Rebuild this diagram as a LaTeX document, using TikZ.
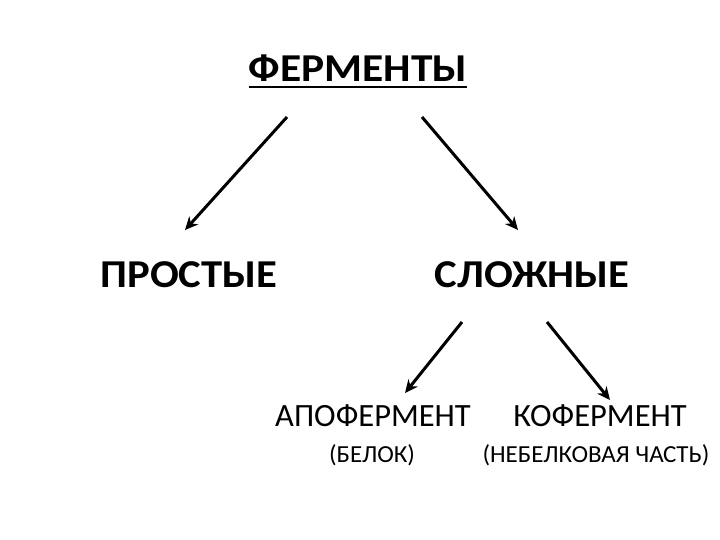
\documentclass[tikz,border=0pt]{standalone}
\usepackage{fontspec}
\setmainfont{Carlito}
\usetikzlibrary{arrows.meta}
\begin{document}
\begin{tikzpicture}[x=1pt,y=-1pt,
  big/.style={font=\fontsize{39.5}{44}\selectfont\bfseries, inner sep=0pt, anchor=base},
  mid/.style={font=\fontsize{32.5}{36}\selectfont, inner sep=0pt, anchor=base},
  small/.style={font=\fontsize{24.5}{28}\selectfont, inner sep=0pt, anchor=base},
  arr/.style={line width=3pt, -{Stealth[length=13pt,width=12pt]}}]
\useasboundingbox (0,0) rectangle (720,540);
\node[big] (title) at (358,82) {\scalebox{1.1}[1]{ФЕРМЕНТЫ}};
\draw[line width=2.5pt] ([yshift=-5pt]title.base west) -- ([yshift=-5pt]title.base east);
\node[big] (prost) at (189,287) {\scalebox{1.08}[1]{ПРОСТЫЕ}};
\node[big] (slozh) at (532,287) {\scalebox{1.08}[1]{СЛОЖНЫЕ}};
\node[mid] (apo) at (373,426) {АПОФЕРМЕНТ};
\node[mid] (ko) at (600,426) {КОФЕРМЕНТ};
\node[small] (belok) at (372,462) {\scalebox{1.02}[1]{(БЕЛОК)}};
\node[small] (nebel) at (596,462) {\scalebox{1.02}[1]{(НЕБЕЛКОВАЯ ЧАСТЬ)}};
\coordinate (a1s) at (287,117); \coordinate (a1e) at (185,230);
\coordinate (a2s) at (422,117); \coordinate (a2e) at (518,230);
\coordinate (a3s) at (462,322); \coordinate (a3e) at (405,393);
\coordinate (a4s) at (547,322); \coordinate (a4e) at (610,400);
\draw[arr] (a1s) -- (a1e);
\draw[arr] (a2s) -- (a2e);
\draw[arr] (a3s) -- (a3e);
\draw[arr] (a4s) -- (a4e);
\end{tikzpicture}
\end{document}
